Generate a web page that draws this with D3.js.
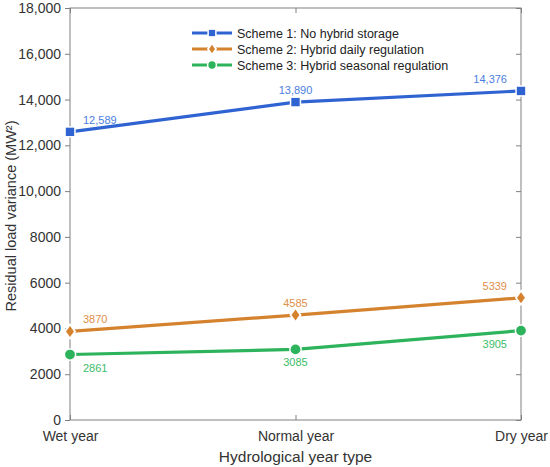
<!DOCTYPE html>
<html>
<head>
<meta charset="utf-8">
<script src="https://cdn.jsdelivr.net/npm/d3@7"></script>
<style>
  body { margin: 0; background: #fff; }
  text { font-family: "Liberation Sans", Arial, sans-serif; }
</style>
</head>
<body>
<svg></svg>
<script>
const years = ["Wet year", "Normal year", "Dry year"];
const scheme1 = [12589, 13890, 14376];
const scheme2 = [3870, 4585, 5339];
const scheme3 = [2861, 3085, 3905];
const legendNames = [
    "Scheme 1: No hybrid storage",
    "Scheme 2: Hybrid daily regulation",
    "Scheme 3: Hybrid seasonal regulation"
];
const yTicks = [0, 2000, 4000, 6000, 8000, 10000, 12000, 14000, 16000, 18000];

const width = 550;
const height = 467;
const plotLeft = 70, plotRight = 521, plotTop = 8, plotBottom = 420;

let svg = d3.select("svg")
    .attr("width", width)
    .attr("height", height);

let scaleX = d3.scalePoint().domain(years).range([plotLeft, plotRight]);
let scaleY = d3.scaleLinear().domain([0, 18000]).range([plotBottom, plotTop]);

const axisColor = "#808080";
const textColor = "#333";

// box around the plot
svg.append("rect")
    .attr("x", plotLeft).attr("y", plotTop)
    .attr("width", plotRight - plotLeft).attr("height", plotBottom - plotTop)
    .attr("fill", "none")
    .attr("stroke", axisColor)
    .attr("stroke-width", 1);

let fmt = v => v >= 10000 ? d3.format(",")(v) : String(v);

let axisY = svg.append("g")
    .attr("transform", `translate(${plotLeft},0)`)
    .call(d3.axisLeft(scaleY).tickValues(yTicks).tickFormat(fmt).tickSize(5).tickPadding(4));
axisY.select(".domain").remove();
axisY.selectAll("line").attr("stroke", axisColor);
axisY.selectAll("text").attr("font-size", 14).attr("fill", textColor);

// inner ticks on the right side
svg.append("g")
    .attr("transform", `translate(${plotRight},0)`)
    .call(d3.axisLeft(scaleY).tickValues(yTicks).tickFormat("").tickSize(5))
    .call(g => g.select(".domain").remove())
    .selectAll("line").attr("stroke", axisColor);

let axisX = svg.append("g")
    .attr("transform", `translate(0,${plotBottom})`)
    .call(d3.axisTop(scaleX).tickSize(5).tickPadding(0));
axisX.select(".domain").remove();
axisX.selectAll("line").attr("stroke", axisColor);
axisX.selectAll("text")
    .attr("y", 21)
    .attr("dy", 0)
    .attr("font-size", 14)
    .attr("fill", textColor);

svg.append("g")
    .attr("transform", `translate(0,${plotTop})`)
    .call(d3.axisBottom(scaleX).tickFormat("").tickSize(5))
    .call(g => g.select(".domain").remove())
    .selectAll("line").attr("stroke", axisColor);

// axis titles
svg.append("text")
    .attr("x", (plotLeft + plotRight) / 2)
    .attr("y", 462)
    .attr("text-anchor", "middle")
    .attr("font-size", 15.5)
    .attr("fill", textColor)
    .text("Hydrological year type");

svg.append("text")
    .attr("transform", `translate(16,216) rotate(-90)`)
    .attr("text-anchor", "middle")
    .attr("font-size", 14.5)
    .attr("fill", textColor)
    .text("Residual load variance (MW²)");

const series = [
    {values: scheme1, color: "#2f63d2", label: "#4c7ee0", shape: d3.symbolSquare, size: 70, sx: 1, below: false},
    {values: scheme2, color: "#d5822f", label: "#e0904a", shape: d3.symbolDiamond, size: 35, sx: 1.25, below: false},
    {values: scheme3, color: "#2cb35c", label: "#3cbd68", shape: d3.symbolCircle, size: 75, sx: 1, below: true}
];

let line = d3.line()
    .x((d, i) => scaleX(years[i]))
    .y(d => scaleY(d));

function marker(g, s, x, y, k) {
    g.append("path")
        .attr("d", d3.symbol().type(s.shape).size(s.size)())
        .attr("fill", s.color)
        .attr("stroke", "white")
        .attr("stroke-width", 3 / k)
        .attr("paint-order", "stroke")
        .attr("transform", `translate(${x},${y}) scale(${s.sx * k},${k})`);
}

series.forEach(s => {
    svg.append("path")
        .datum(s.values)
        .attr("d", line)
        .attr("fill", "none")
        .attr("stroke", s.color)
        .attr("stroke-width", 3.2);

    s.values.forEach((v, i) => {
        marker(svg, s, scaleX(years[i]), scaleY(v), 1);
    });

    svg.append("g").selectAll("text")
        .data(s.values)
        .enter()
        .append("text")
        .attr("x", (d, i) => scaleX(years[i]) + (i == 0 ? 13 : i == 2 ? -14 : 0))
        .attr("y", d => scaleY(d) + (s.below ? 17 : -8))
        .attr("text-anchor", (d, i) => i == 0 ? "start" : i == 2 ? "end" : "middle")
        .attr("font-size", 11)
        .attr("fill", s.label)
        .text(d => d >= 10000 ? d3.format(",")(d) : d);
});

// legend
let legend = svg.append("g");
series.forEach((s, i) => {
    let y = 33 + i * 16;
    legend.append("line")
        .attr("x1", 192).attr("x2", 232)
        .attr("y1", y).attr("y2", y)
        .attr("stroke", s.color)
        .attr("stroke-width", 2.8);
    marker(legend, s, 212, y, 0.75);
    legend.append("text")
        .attr("x", 237)
        .attr("y", y + 4.5)
        .attr("font-size", 12.5)
        .attr("fill", "#222")
        .text(legendNames[i]);
});
</script>
</body>
</html>
